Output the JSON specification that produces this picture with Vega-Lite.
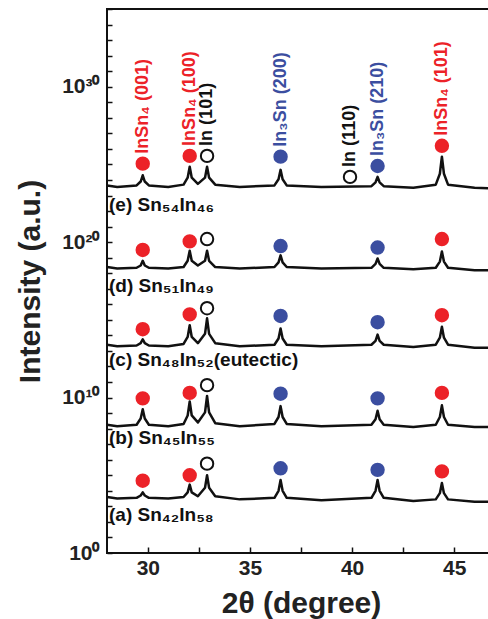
{
 "$schema": "https://vega.github.io/schema/vega-lite/v6.json",
 "width": 388,
 "height": 544,
 "autosize": {"type": "none"},
 "padding": {"left": 107, "top": 9, "right": 0, "bottom": 66},
 "background": "white",
 "config": {
  "view": {"stroke": "#111", "strokeWidth": 2},
  "font": "Liberation Sans",
  "axis": {"labelFont": "Liberation Sans", "labelFontWeight": "bold", "labelFontSize": 21, "labelColor": "#222",
   "titleFont": "Liberation Sans", "titleFontWeight": "bold", "titleFontSize": 30, "titleColor": "#222"}
 },
 "datasets": {
  "curves": [
   {"s":"e","x":28.0,"y":4.47e23},{"s":"e","x":28.5,"y":3.55e23},{"s":"e","x":29.45,"y":4.47e23},{"s":"e","x":29.65,"y":7.94e23},{"s":"e","x":29.75,"y":2.00e24},{"s":"e","x":29.85,"y":7.94e23},{"s":"e","x":30.05,"y":4.47e23},{"s":"e","x":31.0,"y":3.55e23},{"s":"e","x":31.75,"y":5.01e23},{"s":"e","x":31.95,"y":1.41e24},{"s":"e","x":32.05,"y":7.08e24},{"s":"e","x":32.15,"y":1.41e24},{"s":"e","x":32.45,"y":5.62e23},{"s":"e","x":32.8,"y":1.41e24},{"s":"e","x":32.9,"y":7.08e24},{"s":"e","x":33.0,"y":1.41e24},{"s":"e","x":33.3,"y":5.01e23},{"s":"e","x":34.5,"y":3.55e23},{"s":"e","x":36.2,"y":4.47e23},{"s":"e","x":36.4,"y":1.12e24},{"s":"e","x":36.5,"y":4.47e24},{"s":"e","x":36.6,"y":1.12e24},{"s":"e","x":36.8,"y":4.47e23},{"s":"e","x":38.5,"y":3.55e23},{"s":"e","x":40.95,"y":3.98e23},{"s":"e","x":41.15,"y":7.08e23},{"s":"e","x":41.25,"y":1.58e24},{"s":"e","x":41.35,"y":7.08e23},{"s":"e","x":41.55,"y":3.98e23},{"s":"e","x":43.0,"y":3.16e23},{"s":"e","x":44.1,"y":5.01e23},{"s":"e","x":44.3,"y":2.51e24},{"s":"e","x":44.4,"y":3.16e25},{"s":"e","x":44.5,"y":2.51e24},{"s":"e","x":44.7,"y":5.01e23},{"s":"e","x":46.0,"y":3.16e23},{"s":"e","x":47.0,"y":2.82e23},
   {"s":"d","x":28.0,"y":2.51e18},{"s":"d","x":28.5,"y":2.00e18},{"s":"d","x":29.45,"y":2.24e18},{"s":"d","x":29.65,"y":3.16e18},{"s":"d","x":29.75,"y":6.31e18},{"s":"d","x":29.85,"y":3.16e18},{"s":"d","x":30.05,"y":2.24e18},{"s":"d","x":31.0,"y":2.00e18},{"s":"d","x":31.75,"y":2.51e18},{"s":"d","x":31.95,"y":6.31e18},{"s":"d","x":32.05,"y":2.82e19},{"s":"d","x":32.15,"y":6.31e18},{"s":"d","x":32.45,"y":3.16e18},{"s":"d","x":32.8,"y":6.31e18},{"s":"d","x":32.9,"y":2.82e19},{"s":"d","x":33.0,"y":6.31e18},{"s":"d","x":33.3,"y":2.51e18},{"s":"d","x":34.5,"y":2.00e18},{"s":"d","x":36.2,"y":2.51e18},{"s":"d","x":36.4,"y":5.01e18},{"s":"d","x":36.5,"y":1.41e19},{"s":"d","x":36.6,"y":5.01e18},{"s":"d","x":36.8,"y":2.51e18},{"s":"d","x":38.5,"y":2.00e18},{"s":"d","x":40.95,"y":2.24e18},{"s":"d","x":41.15,"y":3.98e18},{"s":"d","x":41.25,"y":8.91e18},{"s":"d","x":41.35,"y":3.98e18},{"s":"d","x":41.55,"y":2.24e18},{"s":"d","x":43.0,"y":1.78e18},{"s":"d","x":44.1,"y":2.24e18},{"s":"d","x":44.3,"y":5.62e18},{"s":"d","x":44.4,"y":2.51e19},{"s":"d","x":44.5,"y":5.62e18},{"s":"d","x":44.7,"y":2.24e18},{"s":"d","x":46.0,"y":1.58e18},{"s":"d","x":47.0,"y":1.58e18},
   {"s":"c","x":28.0,"y":2.51e13},{"s":"c","x":28.5,"y":2.00e13},{"s":"c","x":29.45,"y":2.24e13},{"s":"c","x":29.65,"y":3.16e13},{"s":"c","x":29.75,"y":5.62e13},{"s":"c","x":29.85,"y":3.16e13},{"s":"c","x":30.05,"y":2.24e13},{"s":"c","x":31.0,"y":2.00e13},{"s":"c","x":31.75,"y":2.82e13},{"s":"c","x":31.95,"y":7.94e13},{"s":"c","x":32.05,"y":4.47e14},{"s":"c","x":32.15,"y":7.94e13},{"s":"c","x":32.45,"y":3.16e13},{"s":"c","x":32.8,"y":1.26e14},{"s":"c","x":32.9,"y":1.26e15},{"s":"c","x":33.0,"y":1.26e14},{"s":"c","x":33.3,"y":3.16e13},{"s":"c","x":34.5,"y":2.00e13},{"s":"c","x":36.2,"y":2.51e13},{"s":"c","x":36.4,"y":6.31e13},{"s":"c","x":36.5,"y":2.82e14},{"s":"c","x":36.6,"y":6.31e13},{"s":"c","x":36.8,"y":2.51e13},{"s":"c","x":38.5,"y":2.00e13},{"s":"c","x":40.95,"y":2.51e13},{"s":"c","x":41.15,"y":4.47e13},{"s":"c","x":41.25,"y":1.12e14},{"s":"c","x":41.35,"y":4.47e13},{"s":"c","x":41.55,"y":2.51e13},{"s":"c","x":43.0,"y":1.78e13},{"s":"c","x":44.1,"y":2.51e13},{"s":"c","x":44.3,"y":7.08e13},{"s":"c","x":44.4,"y":3.55e14},{"s":"c","x":44.5,"y":7.08e13},{"s":"c","x":44.7,"y":2.51e13},{"s":"c","x":46.0,"y":1.58e13},{"s":"c","x":47.0,"y":1.58e13},
   {"s":"b","x":28.0,"y":1.78e8},{"s":"b","x":28.5,"y":1.41e8},{"s":"b","x":29.45,"y":1.78e8},{"s":"b","x":29.65,"y":4.47e8},{"s":"b","x":29.75,"y":1.78e9},{"s":"b","x":29.85,"y":4.47e8},{"s":"b","x":30.05,"y":1.78e8},{"s":"b","x":31.0,"y":1.41e8},{"s":"b","x":31.75,"y":2.00e8},{"s":"b","x":31.95,"y":7.08e8},{"s":"b","x":32.05,"y":5.62e9},{"s":"b","x":32.15,"y":7.08e8},{"s":"b","x":32.45,"y":2.51e8},{"s":"b","x":32.8,"y":1.12e9},{"s":"b","x":32.9,"y":1.26e10},{"s":"b","x":33.0,"y":1.12e9},{"s":"b","x":33.3,"y":2.24e8},{"s":"b","x":34.5,"y":1.41e8},{"s":"b","x":36.2,"y":2.00e8},{"s":"b","x":36.4,"y":5.62e8},{"s":"b","x":36.5,"y":2.82e9},{"s":"b","x":36.6,"y":5.62e8},{"s":"b","x":36.8,"y":2.00e8},{"s":"b","x":38.5,"y":1.41e8},{"s":"b","x":40.95,"y":1.78e8},{"s":"b","x":41.15,"y":3.98e8},{"s":"b","x":41.25,"y":1.41e9},{"s":"b","x":41.35,"y":3.98e8},{"s":"b","x":41.55,"y":1.78e8},{"s":"b","x":43.0,"y":1.26e8},{"s":"b","x":44.1,"y":1.78e8},{"s":"b","x":44.3,"y":5.62e8},{"s":"b","x":44.4,"y":3.16e9},{"s":"b","x":44.5,"y":5.62e8},{"s":"b","x":44.7,"y":1.78e8},{"s":"b","x":46.0,"y":1.26e8},{"s":"b","x":47.0,"y":1.26e8},
   {"s":"a","x":28.0,"y":3.98e3},{"s":"a","x":28.5,"y":3.16e3},{"s":"a","x":29.45,"y":3.55e3},{"s":"a","x":29.65,"y":5.01e3},{"s":"a","x":29.75,"y":7.94e3},{"s":"a","x":29.85,"y":5.01e3},{"s":"a","x":30.05,"y":3.55e3},{"s":"a","x":31.0,"y":3.16e3},{"s":"a","x":31.75,"y":3.98e3},{"s":"a","x":31.95,"y":7.94e3},{"s":"a","x":32.05,"y":2.51e4},{"s":"a","x":32.15,"y":7.94e3},{"s":"a","x":32.45,"y":4.47e3},{"s":"a","x":32.8,"y":1.58e4},{"s":"a","x":32.9,"y":1.00e5},{"s":"a","x":33.0,"y":1.58e4},{"s":"a","x":33.3,"y":4.47e3},{"s":"a","x":34.5,"y":2.82e3},{"s":"a","x":36.2,"y":3.55e3},{"s":"a","x":36.4,"y":1.00e4},{"s":"a","x":36.5,"y":5.01e4},{"s":"a","x":36.6,"y":1.00e4},{"s":"a","x":36.8,"y":3.55e3},{"s":"a","x":38.5,"y":2.51e3},{"s":"a","x":40.95,"y":3.55e3},{"s":"a","x":41.15,"y":1.00e4},{"s":"a","x":41.25,"y":5.01e4},{"s":"a","x":41.35,"y":1.00e4},{"s":"a","x":41.55,"y":3.55e3},{"s":"a","x":43.0,"y":2.24e3},{"s":"a","x":44.1,"y":2.82e3},{"s":"a","x":44.3,"y":7.08e3},{"s":"a","x":44.4,"y":3.16e4},{"s":"a","x":44.5,"y":7.08e3},{"s":"a","x":44.7,"y":2.82e3},{"s":"a","x":46.0,"y":2.00e3},{"s":"a","x":47.0,"y":2.00e3}
  ],
  "markers": [
   {"s":"e","x":29.75,"y":1.12e25,"p":"InSn4"},{"s":"e","x":32.05,"y":3.55e25,"p":"InSn4"},{"s":"e","x":32.9,"y":3.55e25,"p":"In"},{"s":"e","x":36.5,"y":3.16e25,"p":"In3Sn"},{"s":"e","x":39.9,"y":1.58e24,"p":"In"},{"s":"e","x":41.25,"y":7.94e24,"p":"In3Sn"},{"s":"e","x":44.4,"y":1.58e26,"p":"InSn4"},
   {"s":"d","x":29.75,"y":3.16e19,"p":"InSn4"},{"s":"d","x":32.05,"y":1.12e20,"p":"InSn4"},{"s":"d","x":32.9,"y":1.58e20,"p":"In"},{"s":"d","x":36.5,"y":5.62e19,"p":"In3Sn"},{"s":"d","x":41.25,"y":4.47e19,"p":"In3Sn"},{"s":"d","x":44.4,"y":1.58e20,"p":"InSn4"},
   {"s":"c","x":29.75,"y":2.51e14,"p":"InSn4"},{"s":"c","x":32.05,"y":2.24e15,"p":"InSn4"},{"s":"c","x":32.9,"y":5.62e15,"p":"In"},{"s":"c","x":36.5,"y":1.78e15,"p":"In3Sn"},{"s":"c","x":41.25,"y":7.08e14,"p":"In3Sn"},{"s":"c","x":44.4,"y":2.00e15,"p":"InSn4"},
   {"s":"b","x":29.75,"y":8.91e9,"p":"InSn4"},{"s":"b","x":32.05,"y":2.00e10,"p":"InSn4"},{"s":"b","x":32.9,"y":6.31e10,"p":"In"},{"s":"b","x":36.5,"y":1.78e10,"p":"In3Sn"},{"s":"b","x":41.25,"y":8.91e9,"p":"In3Sn"},{"s":"b","x":44.4,"y":2.00e10,"p":"InSn4"},
   {"s":"a","x":29.75,"y":4.47e4,"p":"InSn4"},{"s":"a","x":32.05,"y":1.00e5,"p":"InSn4"},{"s":"a","x":32.9,"y":5.62e5,"p":"In"},{"s":"a","x":36.5,"y":2.82e5,"p":"In3Sn"},{"s":"a","x":41.25,"y":2.24e5,"p":"In3Sn"},{"s":"a","x":44.4,"y":1.78e5,"p":"InSn4"}
  ],
  "peaklabels": [
   {"x":29.75,"y":1.12e25,"p":"InSn4","t":"InSn₄ (001)"},
   {"x":32.05,"y":3.55e25,"p":"InSn4","t":"InSn₄ (100)"},
   {"x":32.9,"y":3.55e25,"p":"In","t":"In (101)"},
   {"x":36.5,"y":3.16e25,"p":"In3Sn","t":"In₃Sn (200)"},
   {"x":39.9,"y":1.58e24,"p":"In","t":"In (110)"},
   {"x":41.25,"y":7.94e24,"p":"In3Sn","t":"In₃Sn (210)"},
   {"x":44.4,"y":1.58e26,"p":"InSn4","t":"InSn₄ (101)"}
  ],
  "curvelabels": [
   {"x":28,"y":2.51e22,"t":"(e) Sn₅₄In₄₆"},
   {"x":28,"y":1.5e17,"t":"(d) Sn₅₁In₄₉"},
   {"x":28,"y":2.6e12,"t":"(c) Sn₄₈In₅₂(eutectic)"},
   {"x":28,"y":2.51e7,"t":"(b) Sn₄₅In₅₅"},
   {"x":28,"y":2.82e2,"t":"(a) Sn₄₂In₅₈"}
  ]
 },
 "layer": [
  {
   "data": {"name": "curves"},
   "mark": {"type": "line", "color": "#111", "strokeWidth": 2.5, "strokeJoin": "round", "clip": true},
   "encoding": {
    "x": {"field": "x", "type": "quantitative", "scale": {"domain": [28, 47], "nice": false},
     "axis": {"title": "2θ (degree)", "values": [30, 32.5, 35, 37.5, 40, 42.5, 45],
      "labelExpr": "datum.value % 5 == 0 ? datum.label : ''",
      "offset": -6, "ticks": true, "tickSize": 6, "tickColor": "#111", "tickWidth": 1.5,
      "domain": true, "domainOpacity": 0, "grid": true, "gridOpacity": 0,
      "labelPadding": 4, "titleY": 56, "titleBaseline": "middle"}},
    "y": {"field": "y", "type": "quantitative", "scale": {"type": "log", "domain": [1, 1e35], "nice": false},
     "axis": {"title": "Intensity (a.u.)",
      "values": [1,1e1,1e2,1e3,1e4,1e5,1e6,1e7,1e8,1e9,1e10,1e11,1e12,1e13,1e14,1e15,1e16,1e17,1e18,1e19,1e20,1e21,1e22,1e23,1e24,1e25,1e26,1e27,1e28,1e29,1e30,1e31,1e32,1e33,1e34,1e35],
      "labelExpr": "round(log(datum.value)/LN10) == 0 ? '10⁰' : round(log(datum.value)/LN10) == 10 ? '10¹⁰' : round(log(datum.value)/LN10) == 20 ? '10²⁰' : round(log(datum.value)/LN10) == 30 ? '10³⁰' : ''",
      "offset": -5, "ticks": true, "tickSize": 5, "tickColor": "#111", "tickWidth": 1.5,
      "domain": true, "domainOpacity": 0, "grid": true, "gridOpacity": 0,
      "labelPadding": 8, "titleX": -82, "titleBaseline": "middle", "titleAngle": -90}},
    "detail": {"field": "s"}
   }
  },
  {
   "data": {"name": "markers"},
   "mark": {"type": "point", "shape": "circle", "size": 154, "strokeWidth": 2, "opacity": 1},
   "encoding": {
    "x": {"field": "x", "type": "quantitative"},
    "y": {"field": "y", "type": "quantitative"},
    "fill": {"field": "p", "type": "nominal", "scale": {"domain": ["InSn4", "In3Sn", "In"], "range": ["#ec2228", "#3b4ea0", "white"]}, "legend": null},
    "stroke": {"field": "p", "type": "nominal", "scale": {"domain": ["InSn4", "In3Sn", "In"], "range": ["#ec2228", "#3b4ea0", "#111"]}, "legend": null}
   }
  },
  {
   "data": {"name": "peaklabels"},
   "mark": {"type": "text", "angle": 270, "align": "left", "baseline": "middle", "dx": 10, "font": "Liberation Sans", "fontWeight": "bold", "fontSize": 18},
   "encoding": {
    "x": {"field": "x", "type": "quantitative"},
    "y": {"field": "y", "type": "quantitative"},
    "text": {"field": "t"},
    "color": {"field": "p", "type": "nominal", "scale": {"domain": ["InSn4", "In3Sn", "In"], "range": ["#ec2228", "#3b4ea0", "#111"]}, "legend": null}
   }
  },
  {
   "data": {"name": "curvelabels"},
   "mark": {"type": "text", "align": "left", "baseline": "middle", "dx": 2, "font": "Liberation Sans", "fontWeight": "bold", "fontSize": 19, "color": "#111"},
   "encoding": {
    "x": {"field": "x", "type": "quantitative"},
    "y": {"field": "y", "type": "quantitative"},
    "text": {"field": "t"}
   }
  }
 ]
}
